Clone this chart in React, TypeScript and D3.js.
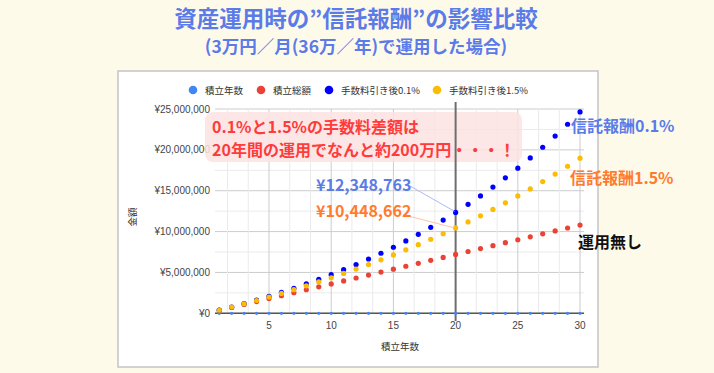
import React from "react";
import * as d3 from "d3";

const years = d3.range(1, 31);
const principal = [360000,720000,1080000,1440000,1800000,2160000,2520000,2880000,3240000,3600000,3960000,4320000,4680000,5040000,5400000,5760000,6120000,6480000,6840000,7200000,7560000,7920000,8280000,8640000,9000000,9360000,9720000,10080000,10440000,10800000];
const fee01 = [377622,773729,1189225,1625060,2082229,2561776,3064797,3592441,4145913,4726477,5335460,5974253,6644315,7347176,8084442,8857797,9669008,10519928,11412500,12348763,13330858,14361026,15441620,16575109,17764083,19011257,20319480,21691741,23131174,24641067];
const fee15 = [372330,757412,1155683,1567595,1993615,2434226,2889928,3361238,3848690,4352838,4874253,5413526,5971269,6548115,7144718,7761755,8399925,9059952,9742585,10448662,11178794,11933998,12715067,13522888,14358377,15222481,16116181,17040490,17996457,18985166];
const yTicks = [0, 5000000, 10000000, 15000000, 20000000, 25000000];
const xTicks = [5, 10, 15, 20, 25, 30];
const legendItems = ["積立年数", "積立総額", "手数料引き後0.1%", "手数料引き後1.5%"];
const legendColors = ["#4285f4", "#ea4335", "#0000ff", "#fbbc04"];

const W = 714, H = 373;
const x = d3.scaleLinear().domain([0.66, 30.32]).range([215, 584]);
const y = d3.scaleLinear().domain([0, 25000000]).range([313.3, 109]);
const yen = (v: number) => "¥" + d3.format(",")(v);
const JP = "'Noto Sans CJK JP', 'Noto Sans', sans-serif";
const AR = "'Liberation Sans', Arial, sans-serif";

export default function App() {
  const xMinor = d3.range(0, 31, 5 / 3).filter((v) => v > 0.66 && v < 30.4);
  const yMinor = d3.range(0, 25000001, 2500000);
  const legendX = [193, 261, 329, 437];
  return (
    <svg width={W} height={H} style={{ position: "absolute", left: 0, top: 0 }}>
      <rect x={0} y={0} width={W} height={H} fill="#fefaea" />
      <text x={356} y={26.5} textAnchor="middle" fontFamily={JP} fontWeight="bold" fontSize={22.5} fill="#5b7be8">資産運用時の”信託報酬”の影響比較</text>
      <text x={356} y={53} textAnchor="middle" fontFamily={JP} fontWeight="bold" fontSize={17.5} fill="#5b7be8">(3万円／月(36万／年)で運用した場合)</text>
      <rect x={118} y={71} width={480} height={296} fill="#ffffff" stroke="#c4c4c4" strokeWidth={1.5} />
      {/* legend */}
      {legendItems.map((t, i) => (
        <g key={t}>
          <circle cx={legendX[i]} cy={90} r={4.3} fill={legendColors[i]} />
          <text x={legendX[i] + 12} y={93.5} fontFamily={JP} fontSize={9.5} fill="#333">{t}</text>
        </g>
      ))}
      {/* gridlines */}
      {yMinor.map((v) => (
        <line key={"ym" + v} x1={215} x2={584} y1={y(v)} y2={y(v)} stroke={v % 5000000 === 0 ? "#cccccc" : "#ebebeb"} strokeWidth={1} />
      ))}
      {xMinor.map((v, i) => (
        <line key={"xm" + i} x1={x(v)} x2={x(v)} y1={109} y2={313.3} stroke={Math.abs(v - Math.round(v / 5) * 5) < 0.01 ? "#cccccc" : "#ebebeb"} strokeWidth={1} />
      ))}
      {/* axis labels */}
      {yTicks.map((v) => (
        <text key={"yt" + v} x={210} y={y(v) + 3.5} textAnchor="end" fontFamily={AR} fontSize={10} fill="#444">{yen(v)}</text>
      ))}
      {xTicks.map((v) => (
        <text key={"xt" + v} x={x(v)} y={329} textAnchor="middle" fontFamily={AR} fontSize={10} fill="#444">{v}</text>
      ))}
      <text x={400} y={350} textAnchor="middle" fontFamily={JP} fontSize={9.5} fill="#333">積立年数</text>
      <text transform={`translate(136,217) rotate(-90)`} textAnchor="middle" fontFamily={JP} fontSize={9.5} fill="#333">金額</text>
      {/* annotation box */}
      <rect x={205} y={112} width={317} height={50} rx={8} fill="#fde2e2" opacity={0.85} />
      {/* vertical line at 20 */}
      <line x1={x(20)} x2={x(20)} y1={102} y2={321} stroke="#6e6e6e" strokeWidth={2} />
      {/* baseline */}
      <line x1={215} x2={584} y1={y(0)} y2={y(0)} stroke="#555" strokeWidth={1.5} />
      {/* series */}
      {years.map((v, i) => (
        <circle key={"s0" + i} cx={x(years[i])} cy={y(v)} r={1.6} fill="#4285f4" />
      ))}
      {principal.map((v, i) => (
        <circle key={"s1" + i} cx={x(years[i])} cy={y(v)} r={2.6} fill="#ea4335" />
      ))}
      {fee01.map((v, i) => (
        <circle key={"s2" + i} cx={x(years[i])} cy={y(v)} r={2.6} fill="#0000ff" />
      ))}
      {fee15.map((v, i) => (
        <circle key={"s3" + i} cx={x(years[i])} cy={y(v)} r={2.6} fill="#fbbc04" />
      ))}
      {/* annotation text */}
      <text x={212} y={133} fontFamily={JP} fontWeight="bold" fontSize={16} fill="#ff3b3b">0.1%と1.5%の手数料差額は</text>
      <text x={212} y={156} fontFamily={JP} fontWeight="bold" fontSize={16} fill="#ff3b3b">20年間の運用でなんと約200万円・・・！</text>
      {/* value callouts */}
      <line x1={410} y1={186} x2={x(20) - 1} y2={y(fee01[19]) - 1} stroke="#a9bbf5" strokeWidth={1} />
      <line x1={410} y1={216.5} x2={x(20) - 1} y2={y(fee15[19])} stroke="#ffc3a6" strokeWidth={1} />
      <text x={316} y={191} fontFamily={JP} fontWeight="bold" fontSize={16} fill="#5b7be8">{yen(fee01[19])}</text>
      <text x={316} y={216.5} fontFamily={JP} fontWeight="bold" fontSize={16} fill="#ff7b2e">{yen(fee15[19])}</text>
      {/* right labels */}
      <text x={571} y={132} fontFamily={JP} fontWeight="bold" fontSize={16} fill="#5b7be8">信託報酬0.1%</text>
      <text x={570} y={184} fontFamily={JP} fontWeight="bold" fontSize={16} fill="#ff7b2e">信託報酬1.5%</text>
      <text x={578} y={247.5} fontFamily={JP} fontWeight="bold" fontSize={16} fill="#111">運用無し</text>
    </svg>
  );
}
